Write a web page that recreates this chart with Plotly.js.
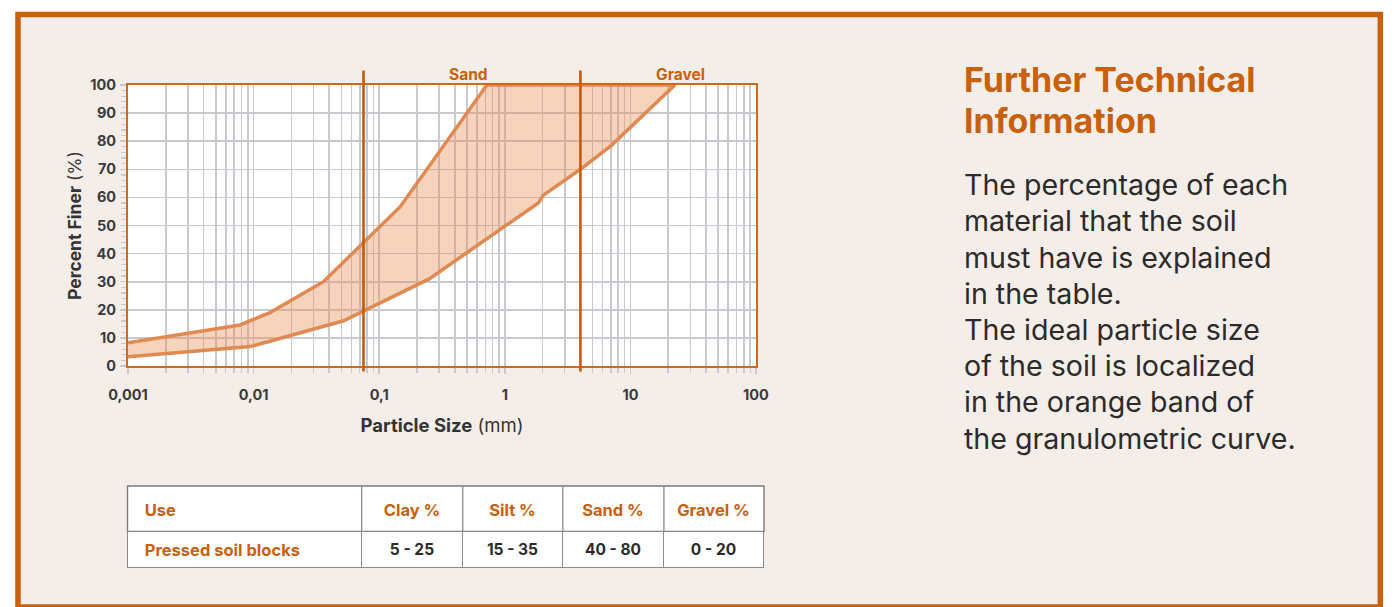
<!DOCTYPE html>
<html>
<head>
<meta charset="utf-8">
<script src="https://cdn.plot.ly/plotly-3.0.1.min.js"></script>
<style>
  html, body { margin: 0; padding: 0; background: #ffffff; }
  #chart { width: 1397px; height: 607px; }
</style>
</head>
<body>
<div id="chart"></div>
<script>
// ---- data ----
// upper limit of the ideal band (particle size mm, percent finer)
const upperSize = [0.001, 0.0078, 0.0135, 0.036, 0.147, 0.72, 22.6];
const upperPct  = [8.3, 14.6, 19.0, 30.0, 56.7, 100, 100];
// lower limit of the ideal band
const lowerSize = [0.001, 0.0094, 0.052, 0.25, 1.85, 2.03, 4.0, 7.1, 22.6];
const lowerPct  = [3.3, 6.9, 16.1, 31.0, 58.0, 60.8, 70.0, 78.6, 100];

// fraction boundaries (mm)
const sandBoundary = 0.075;
const gravelBoundary = 4;
const boundaryLabels = ['Sand', 'Gravel'];

// axis ticks
const xTickVals = [0.001, 0.01, 0.1, 1, 10, 100];
const xTickText = ['0,001', '0,01', '0,1', '1', '10', '100'];
const yTickVals = [0, 10, 20, 30, 40, 50, 60, 70, 80, 90, 100];

// table
const tableHeader = ['Use', 'Clay %', 'Silt %', 'Sand %', 'Gravel %'];
const tableUse = ['Pressed soil blocks'];
const tableClay = ['5 - 25'];
const tableSilt = ['15 - 35'];
const tableSand = ['40 - 80'];
const tableGravel = ['0 - 20'];

// side text
const sideTitle = ['Further Technical', 'Information'];
const sideBody = [
  'The percentage of each',
  'material that the soil',
  'must have is explained',
  'in the table.',
  'The ideal particle size',
  'of the soil is localized',
  'in the orange band of',
  'the granulometric curve.'
];

// ---- build ----
const W = 1397, H = 607;
const px = v => v / W;
const py = v => (H - v) / H;

const ORANGE = '#c8600c';
const BAND_LINE = '#e08a52';
const GRID = '#c9c9d0';
const FONT = 'Inter, "Open Sans", sans-serif';
const CLEAR = 'rgba(0,0,0,0)';

const bandX = upperSize.concat(lowerSize.slice().reverse());
const bandY = upperPct.concat(lowerPct.slice().reverse());

const minorX = [];
for (let e = -3; e < 2; e++) {
  for (let k = 2; k <= 9; k++) minorX.push(k * Math.pow(10, e));
}

const band = {
  type: 'scatter',
  mode: 'lines',
  x: bandX,
  y: bandY,
  fill: 'toself',
  fillcolor: 'rgba(232,140,82,0.38)',
  line: { color: BAND_LINE, width: 3.5 },
  hoverinfo: 'skip',
  showlegend: false
};

// table geometry (pixels)
const tLeft = 127.5, tRight = 764, tTop = 486, tHeadBottom = 531.5, tBottom = 565.5, headPad = 6;
const colW = [234, 101, 100, 101, 100];
const colSum = colW.reduce((a, b) => a + b, 0);

const table = {
  type: 'table',
  domain: { x: [px(tLeft), px(tRight)], y: [py(tBottom + 3), py(tTop + headPad)] },
  columnwidth: colW,
  header: {
    values: tableHeader.map((t, i) => [(i === 0 ? '\u00a0\u00a0' : '') + '<b>' + t + '</b>']),
    align: ['left', 'center', 'center', 'center', 'center'],
    height: tHeadBottom - tTop - headPad,
    fill: { color: CLEAR },
    line: { color: CLEAR, width: 1.2 },
    font: { family: FONT, size: 16.5, color: ORANGE }
  },
  cells: {
    values: [
      tableUse.map(t => '\u00a0\u00a0<b>' + t + '</b>'),
      tableClay.map(t => '<b>' + t + '</b>'),
      tableSilt.map(t => '<b>' + t + '</b>'),
      tableSand.map(t => '<b>' + t + '</b>'),
      tableGravel.map(t => '<b>' + t + '</b>')
    ],
    align: ['left', 'center', 'center', 'center', 'center'],
    height: tBottom - tHeadBottom,
    fill: { color: '#ffffff' },
    line: { color: '#8a8a8a', width: 1.3 },
    font: { family: FONT, size: [16.5, 15.5, 15.5, 15.5, 15.5], color: [ORANGE, '#2b2b2b', '#2b2b2b', '#2b2b2b', '#2b2b2b'] }
  }
};

const shapes = [
  // panel with orange frame
  { type: 'rect', xref: 'paper', yref: 'paper', x0: px(18), x1: px(1380.3), y0: 0, y1: py(14.5),
    fillcolor: '#f5eee8', line: { color: ORANGE, width: 5.5 }, layer: 'below' },
  // white plotting area
  { type: 'rect', xref: 'x domain', yref: 'y domain', x0: 0, x1: 1, y0: 0, y1: 1,
    fillcolor: '#ffffff', line: { width: 0 }, layer: 'below' },
  // table header box
  { type: 'rect', xref: 'paper', yref: 'paper', x0: px(tLeft), x1: px(tRight), y0: py(tHeadBottom), y1: py(tTop),
    fillcolor: '#ffffff', line: { color: '#7a7a7a', width: 1.4 }, layer: 'below' },
  // fraction boundaries
  { type: 'line', xref: 'x', yref: 'paper', x0: sandBoundary, x1: sandBoundary, y0: py(371.5), y1: py(70.5),
    line: { color: '#c55a0a', width: 2.6 } },
  { type: 'line', xref: 'x', yref: 'paper', x0: gravelBoundary, x1: gravelBoundary, y0: py(371.5), y1: py(70.5),
    line: { color: '#c55a0a', width: 2.6 } }
];
// header column separators
let acc = 0;
for (let i = 0; i < colW.length - 1; i++) {
  acc += colW[i];
  const xs = tLeft + (tRight - tLeft) * acc / colSum;
  shapes.push({ type: 'line', xref: 'paper', yref: 'paper', x0: px(xs), x1: px(xs), y0: py(tHeadBottom), y1: py(tTop),
    line: { color: '#8a8a8a', width: 1.3 }, layer: 'below' });
}

const annotations = [
  { xref: 'x', yref: 'paper', x: -0.29, y: py(74), text: '<b>' + boundaryLabels[0] + '</b>', showarrow: false,
    font: { family: FONT, size: 15.5, color: ORANGE }, xanchor: 'center', yanchor: 'middle' },
  { xref: 'x', yref: 'paper', x: 1.395, y: py(74), text: '<b>' + boundaryLabels[1] + '</b>', showarrow: false,
    font: { family: FONT, size: 15.5, color: ORANGE }, xanchor: 'center', yanchor: 'middle' }
];

// side title and body, one annotation per line
const titleSize = 34, titleBase = 91.7, titleGap = 41.3;
sideTitle.forEach((line, i) => {
  annotations.push({ xref: 'paper', yref: 'paper', x: px(962), y: py(titleBase + i * titleGap - 0.36 * titleSize),
    text: '<b>' + line + '</b>', showarrow: false, xanchor: 'left', yanchor: 'middle',
    font: { family: FONT, size: titleSize, color: ORANGE } });
});
const bodySize = 28.6, bodyBase = 195, bodyGap = 36.2;
sideBody.forEach((line, i) => {
  annotations.push({ xref: 'paper', yref: 'paper', x: px(962), y: py(bodyBase + i * bodyGap - 0.36 * bodySize),
    text: line, showarrow: false, xanchor: 'left', yanchor: 'middle',
    font: { family: FONT, size: bodySize, color: '#2b2b2b' } });
});

const layout = {
  width: W, height: H,
  margin: { l: 0, r: 0, t: 0, b: 0 },
  paper_bgcolor: '#ffffff',
  plot_bgcolor: '#ffffff',
  showlegend: false,
  font: { family: FONT, color: '#333333' },
  xaxis: {
    type: 'log',
    domain: [px(128), px(756)],
    range: [-3, 2],
    tickvals: xTickVals,
    ticktext: xTickText,
    ticks: 'outside', ticklen: 6, tickwidth: 1.5, tickcolor: GRID,
    showgrid: true, gridcolor: GRID, gridwidth: 1.6,
    minor: { tickvals: minorX, showgrid: true, gridcolor: GRID, gridwidth: 1.6,
             ticks: 'outside', ticklen: 5, tickwidth: 1.5, tickcolor: GRID },
    showline: true, mirror: true, linecolor: '#d06a18', linewidth: 2,
    zeroline: false,
    tickfont: { family: FONT, size: 14.5, color: '#3a3a3a', weight: 'bold' },
    ticklabelstandoff: 9,
    title: { text: '<b>Particle Size</b> (mm)', font: { family: FONT, size: 18.5, color: '#333333' }, standoff: 17 }
  },
  yaxis: {
    domain: [py(366), py(85)],
    range: [0, 100],
    tickvals: yTickVals,
    ticks: 'outside', ticklen: 6, tickwidth: 1.5, tickcolor: GRID,
    showgrid: true, gridcolor: GRID, gridwidth: 1.6,
    minor: { dtick: 2, showgrid: false, ticks: 'outside', ticklen: 5, tickwidth: 1.2, tickcolor: GRID },
    showline: true, mirror: true, linecolor: '#d06a18', linewidth: 2,
    zeroline: false,
    tickfont: { family: FONT, size: 14.5, color: '#3a3a3a', weight: 'bold' },
    ticklabelstandoff: 1,
    title: { text: '<b>Percent Finer</b> (%)', font: { family: FONT, size: 17.5, color: '#333333' }, standoff: 4 }
  },
  shapes: shapes,
  annotations: annotations
};

Plotly.newPlot('chart', [band, table], layout, { displayModeBar: false, staticPlot: true });
</script>
</body>
</html>
